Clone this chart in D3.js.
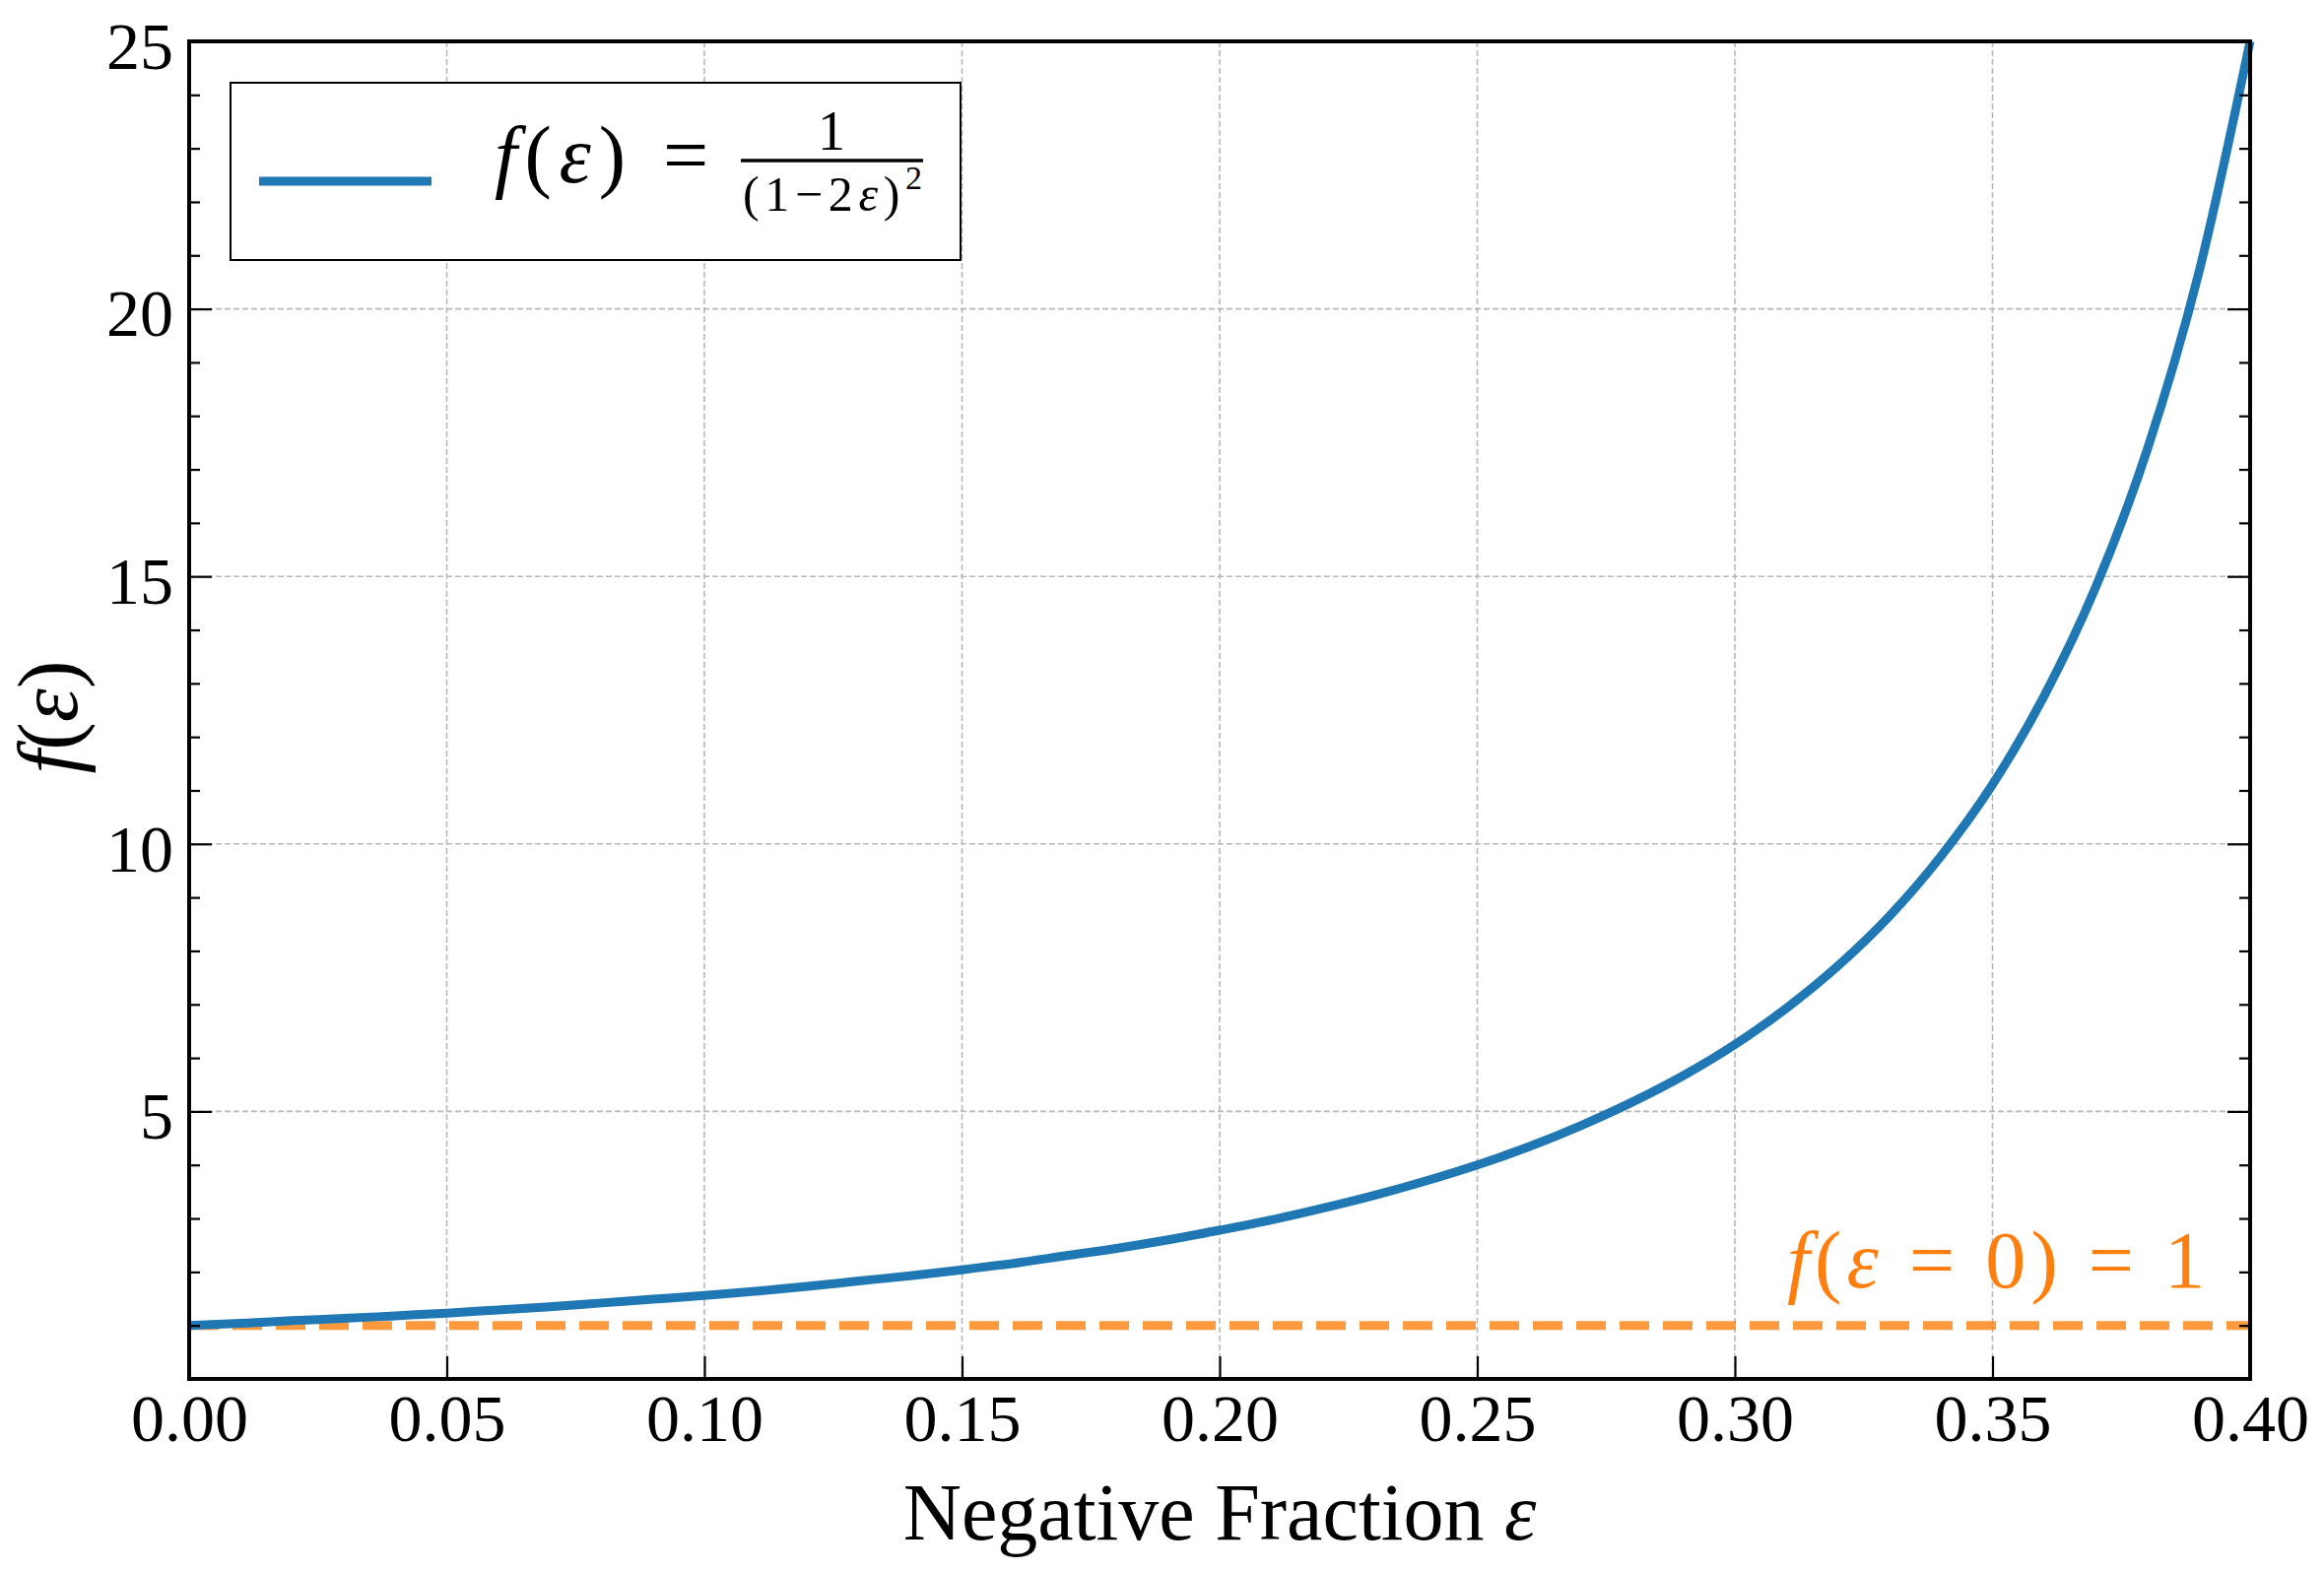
<!DOCTYPE html>
<html>
<head>
<meta charset="utf-8">
<script src="https://cdn.jsdelivr.net/npm/d3@7"></script>
<style>
  html, body { margin: 0; padding: 0; background: #ffffff; }
  svg { display: block; }
  svg text { font-family: 'Liberation Serif', 'Times New Roman', Times, 'DejaVu Serif', serif; }
</style>
</head>
<body>
<svg id="chart" width="2359" height="1595"></svg>
<script>
// ---- data ----
const epsValues = [0.00,0.01,0.02,0.03,0.04,0.05,0.06,0.07,0.08,0.09,0.10,0.11,0.12,0.13,0.14,0.15,0.16,0.17,0.18,0.19,0.20,0.21,0.22,0.23,0.24,0.25,0.26,0.27,0.28,0.29,0.30,0.31,0.32,0.33,0.34,0.35,0.36,0.37,0.38,0.39,0.40];
const fValues = [1.00,1.04,1.09,1.13,1.18,1.23,1.29,1.35,1.42,1.49,1.56,1.64,1.73,1.83,1.93,2.04,2.16,2.30,2.44,2.60,2.78,2.97,3.19,3.43,3.70,4.00,4.34,4.73,5.17,5.67,6.25,6.93,7.72,8.65,9.77,11.11,12.76,14.79,17.36,20.66,25.00];
const baselineValue = 1;
const xTickValues = [0.00,0.05,0.10,0.15,0.20,0.25,0.30,0.35,0.40];
const yTickValues = [5,10,15,20,25];
const yMinorValues = [1,2,3,4,6,7,8,9,11,12,13,14,16,17,18,19,21,22,23,24];
const xDomain = [0, 0.40];
const yDomain = [0, 25];
const labels = { x: "Negative Fraction ", y: "f" };

// ---- layout ----
const W = 2359, H = 1595;
const L = 192, R = 2284, T = 42, B = 1400;
const blue = "#1f77b4", orange = "#ff7f0e";
const FONT = "'Liberation Serif', 'Times New Roman', Times, 'DejaVu Serif', serif";

const svg = d3.select("#chart");
const x = d3.scaleLinear().domain(xDomain).range([L, R]);
const y = d3.scaleLinear().domain(yDomain).range([B, T]);

// grid
const grid = svg.append("g").attr("stroke", "#b8b8b8").attr("stroke-width", 1.6).attr("stroke-dasharray", "6,3");
grid.selectAll("line.gx").data(xTickValues.slice(1, -1)).join("line")
  .attr("x1", d => x(d)).attr("x2", d => x(d)).attr("y1", T).attr("y2", B);
grid.selectAll("line.gy").data(yTickValues.slice(0, -1)).join("line")
  .attr("y1", d => y(d)).attr("y2", d => y(d)).attr("x1", L).attr("x2", R);

// baseline dashed line
svg.append("line")
  .attr("x1", x(xDomain[0])).attr("x2", x(xDomain[1]))
  .attr("y1", y(baselineValue)).attr("y2", y(baselineValue))
  .attr("stroke", orange).attr("stroke-opacity", 0.8)
  .attr("stroke-width", 9).attr("stroke-dasharray", "30,14");

// curve
const pts = epsValues.map((e, i) => [e, fValues[i]]);
const line = d3.line().x(d => x(d[0])).y(d => y(d[1])).curve(d3.curveMonotoneX);
svg.append("path").datum(pts)
  .attr("d", line).attr("fill", "none")
  .attr("stroke", blue).attr("stroke-width", 9)
  .attr("stroke-linejoin", "round");

// axes ticks
function styleAxis(g) {
  g.select(".domain").remove();
  g.selectAll(".tick line").attr("stroke", "#000").attr("stroke-width", 2.2);
  g.selectAll(".tick text").attr("font-family", FONT)
    .attr("font-size", 68).attr("fill", "#000");
}
svg.append("g").attr("transform", `translate(0,${B})`)
  .call(d3.axisBottom(x).tickValues(xTickValues).tickSize(-23).tickPadding(15).tickFormat(d3.format(".2f")))
  .call(styleAxis);
const gl = svg.append("g").attr("transform", `translate(${L},0)`)
  .call(d3.axisLeft(y).tickValues(yTickValues).tickSize(-23).tickPadding(16).tickFormat(d3.format("d")))
  .call(styleAxis);
gl.selectAll(".tick text").attr("dy", "0.4em");
svg.append("g").attr("transform", `translate(${L},0)`)
  .call(d3.axisLeft(y).tickValues(yMinorValues).tickSize(-11).tickFormat(""))
  .call(styleAxis);
svg.append("g").attr("transform", `translate(${R},0)`)
  .call(d3.axisRight(y).tickValues(yTickValues).tickSize(-23).tickFormat(""))
  .call(styleAxis);
svg.append("g").attr("transform", `translate(${R},0)`)
  .call(d3.axisRight(y).tickValues(yMinorValues).tickSize(-11).tickFormat(""))
  .call(styleAxis);

// frame
svg.append("rect").attr("x", L).attr("y", T).attr("width", R - L).attr("height", B - T)
  .attr("fill", "none").attr("stroke", "#000").attr("stroke-width", 4);

// x label
const xl = svg.append("text").attr("x", (L + R) / 2).attr("y", 1563)
  .attr("font-family", FONT)
  .attr("text-anchor", "middle").attr("font-size", 82).attr("fill", "#000");
xl.append("tspan").text(labels.x);
xl.append("tspan").attr("font-style", "italic").text("ε");

// y label
const yl = svg.append("text").attr("transform", "translate(78,728) rotate(-90)")
  .attr("font-family", FONT)
  .attr("text-anchor", "middle").attr("font-size", 86).attr("fill", "#000");
yl.append("tspan").attr("font-style", "italic").text(labels.y);
yl.append("tspan").text("(");
yl.append("tspan").attr("font-style", "italic").text("ε");
yl.append("tspan").text(")");

// annotation
const ann = svg.append("text").attr("x", 2238).attr("y", 1307)
  .attr("font-family", FONT)
  .attr("text-anchor", "end").attr("font-size", 82).attr("fill", orange)
  .attr("textLength", 424).attr("lengthAdjust", "spacing");
ann.append("tspan").attr("font-style", "italic").text("f");
ann.append("tspan").text("(");
ann.append("tspan").attr("font-style", "italic").text("ε");
ann.append("tspan").text(" = 0) = 1");

// legend
const lg = svg.append("g").attr("font-family", FONT);
lg.append("rect").attr("x", 234).attr("y", 84).attr("width", 741).attr("height", 180)
  .attr("fill", "#fff").attr("stroke", "#000").attr("stroke-width", 2);
lg.append("line").attr("x1", 263).attr("x2", 438).attr("y1", 184).attr("y2", 184)
  .attr("stroke", blue).attr("stroke-width", 9);
const lt = lg.append("text").attr("x", 502).attr("y", 185).attr("font-size", 82).attr("fill", "#000")
  .attr("textLength", 133).attr("lengthAdjust", "spacing");
lt.append("tspan").attr("font-style", "italic").text("f");
lt.append("tspan").text("(");
lt.append("tspan").attr("font-style", "italic").text("ε");
lt.append("tspan").text(")");
lg.append("text").attr("x", 696).attr("y", 185).attr("text-anchor", "middle").attr("font-size", 82).text("=");
lg.append("line").attr("x1", 752).attr("x2", 937).attr("y1", 163).attr("y2", 163)
  .attr("stroke", "#000").attr("stroke-width", 3.3);
lg.append("text").attr("x", 844).attr("y", 152).attr("text-anchor", "middle").attr("font-size", 56).text("1");
const den = lg.append("text").attr("x", 845).attr("y", 214).attr("text-anchor", "middle").attr("font-size", 50)
  .attr("textLength", 182).attr("lengthAdjust", "spacing");
den.append("tspan").text("(1−2");
den.append("tspan").attr("font-style", "italic").text("ε");
den.append("tspan").text(")");
den.append("tspan").attr("font-size", 34).attr("dy", -22).text("2");
</script>
</body>
</html>
